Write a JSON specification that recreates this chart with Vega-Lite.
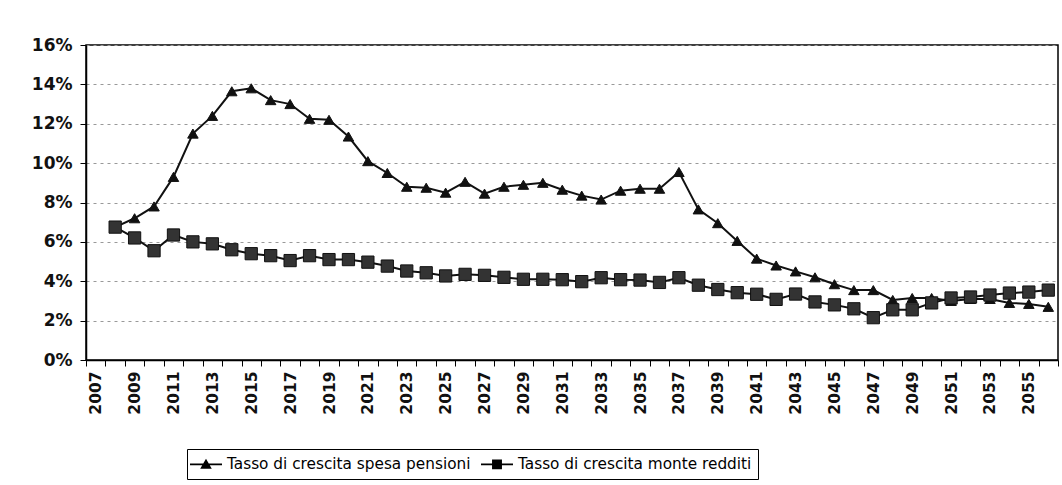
{
  "$schema": "https://vega.github.io/schema/vega-lite/v6.json",
  "width": 972,
  "height": 315,
  "autosize": {"type": "none"},
  "padding": {"left": 86, "top": 45, "right": 4, "bottom": 125},
  "background": "white",
  "config": {
    "font": "DejaVu Sans",
    "view": {"stroke": "black", "strokeWidth": 1.5}
  },
  "datasets": {
    "pensioni": [
      {"year": 2008, "value": 6.75}, {"year": 2009, "value": 7.2}, {"year": 2010, "value": 7.8},
      {"year": 2011, "value": 9.3}, {"year": 2012, "value": 11.5}, {"year": 2013, "value": 12.4},
      {"year": 2014, "value": 13.65}, {"year": 2015, "value": 13.8}, {"year": 2016, "value": 13.2},
      {"year": 2017, "value": 13.0}, {"year": 2018, "value": 12.25}, {"year": 2019, "value": 12.2},
      {"year": 2020, "value": 11.35}, {"year": 2021, "value": 10.1}, {"year": 2022, "value": 9.5},
      {"year": 2023, "value": 8.8}, {"year": 2024, "value": 8.75}, {"year": 2025, "value": 8.5},
      {"year": 2026, "value": 9.05}, {"year": 2027, "value": 8.45}, {"year": 2028, "value": 8.8},
      {"year": 2029, "value": 8.9}, {"year": 2030, "value": 9.0}, {"year": 2031, "value": 8.65},
      {"year": 2032, "value": 8.35}, {"year": 2033, "value": 8.15}, {"year": 2034, "value": 8.6},
      {"year": 2035, "value": 8.7}, {"year": 2036, "value": 8.7}, {"year": 2037, "value": 9.55},
      {"year": 2038, "value": 7.65}, {"year": 2039, "value": 6.95}, {"year": 2040, "value": 6.05},
      {"year": 2041, "value": 5.15}, {"year": 2042, "value": 4.8}, {"year": 2043, "value": 4.5},
      {"year": 2044, "value": 4.2}, {"year": 2045, "value": 3.85}, {"year": 2046, "value": 3.55},
      {"year": 2047, "value": 3.55}, {"year": 2048, "value": 3.05}, {"year": 2049, "value": 3.15},
      {"year": 2050, "value": 3.15}, {"year": 2051, "value": 3.0}, {"year": 2052, "value": 3.1},
      {"year": 2053, "value": 3.1}, {"year": 2054, "value": 2.9}, {"year": 2055, "value": 2.85},
      {"year": 2056, "value": 2.7}
    ],
    "redditi": [
      {"year": 2008, "value": 6.75}, {"year": 2009, "value": 6.2}, {"year": 2010, "value": 5.55},
      {"year": 2011, "value": 6.35}, {"year": 2012, "value": 6.0}, {"year": 2013, "value": 5.9},
      {"year": 2014, "value": 5.6}, {"year": 2015, "value": 5.4}, {"year": 2016, "value": 5.3},
      {"year": 2017, "value": 5.05}, {"year": 2018, "value": 5.3}, {"year": 2019, "value": 5.1},
      {"year": 2020, "value": 5.1}, {"year": 2021, "value": 4.97}, {"year": 2022, "value": 4.77},
      {"year": 2023, "value": 4.52}, {"year": 2024, "value": 4.43}, {"year": 2025, "value": 4.27},
      {"year": 2026, "value": 4.35}, {"year": 2027, "value": 4.3}, {"year": 2028, "value": 4.2},
      {"year": 2029, "value": 4.1}, {"year": 2030, "value": 4.1}, {"year": 2031, "value": 4.08},
      {"year": 2032, "value": 3.98}, {"year": 2033, "value": 4.18}, {"year": 2034, "value": 4.08},
      {"year": 2035, "value": 4.06}, {"year": 2036, "value": 3.94}, {"year": 2037, "value": 4.18},
      {"year": 2038, "value": 3.8}, {"year": 2039, "value": 3.58}, {"year": 2040, "value": 3.42},
      {"year": 2041, "value": 3.34}, {"year": 2042, "value": 3.08}, {"year": 2043, "value": 3.35},
      {"year": 2044, "value": 2.95}, {"year": 2045, "value": 2.8}, {"year": 2046, "value": 2.6},
      {"year": 2047, "value": 2.15}, {"year": 2048, "value": 2.55}, {"year": 2049, "value": 2.55},
      {"year": 2050, "value": 2.9}, {"year": 2051, "value": 3.15}, {"year": 2052, "value": 3.2},
      {"year": 2053, "value": 3.3}, {"year": 2054, "value": 3.4}, {"year": 2055, "value": 3.45},
      {"year": 2056, "value": 3.55}
    ]
  },
  "data": {"name": "pensioni"},
  "transform": [
    {"lookup": "year", "from": {"data": {"name": "redditi"}, "key": "year", "fields": ["value"]}, "as": ["value2"]},
    {"fold": ["value", "value2"], "as": ["key", "v"]},
    {"calculate": "datum.key == 'value' ? 'Tasso di crescita spesa pensioni' : 'Tasso di crescita monte redditi'", "as": "series"}
  ],
  "encoding": {
    "x": {
      "field": "year",
      "type": "ordinal",
      "scale": {
        "type": "band",
        "domain": [2007, 2008, 2009, 2010, 2011, 2012, 2013, 2014, 2015, 2016, 2017, 2018, 2019, 2020, 2021, 2022, 2023, 2024, 2025, 2026, 2027, 2028, 2029, 2030, 2031, 2032, 2033, 2034, 2035, 2036, 2037, 2038, 2039, 2040, 2041, 2042, 2043, 2044, 2045, 2046, 2047, 2048, 2049, 2050, 2051, 2052, 2053, 2054, 2055, 2056],
        "paddingInner": 0,
        "paddingOuter": 0
      },
      "axis": {
        "title": null,
        "labelAngle": -90,
        "labelExpr": "datum.value % 2 == 1 ? datum.label : ''",
        "labelOverlap": false,
        "tickBand": "extent",
        "tickSize": 6,
        "tickColor": "black",
        "domainColor": "black",
        "domainWidth": 1.5,
        "labelFontSize": 15.5,
        "labelFontWeight": "bold",
        "labelColor": "#111111",
        "labelPadding": 5,
        "grid": false
      }
    },
    "y": {
      "field": "v",
      "type": "quantitative",
      "scale": {"domain": [0, 16], "nice": false},
      "axis": {
        "title": null,
        "values": [0, 2, 4, 6, 8, 10, 12, 14, 16],
        "labelExpr": "datum.value + '%'",
        "grid": true,
        "gridDash": [3, 4],
        "gridColor": "#999999",
        "gridWidth": 1,
        "tickSize": 6,
        "tickColor": "black",
        "domainColor": "black",
        "domainWidth": 1.5,
        "labelFontSize": 17,
        "labelFontWeight": "bold",
        "labelColor": "#111111",
        "labelPadding": 8
      }
    }
  },
  "layer": [
    {
      "mark": {"type": "line", "color": "#111111", "strokeWidth": 2},
      "encoding": {"detail": {"field": "series", "type": "nominal"}}
    },
    {
      "mark": {"type": "point", "filled": true, "opacity": 1, "stroke": "#111111", "strokeWidth": 1},
      "encoding": {
        "shape": {
          "field": "series", "type": "nominal",
          "scale": {"domain": ["Tasso di crescita spesa pensioni", "Tasso di crescita monte redditi"], "range": ["triangle-up", "square"]},
          "legend": null
        },
        "size": {
          "field": "series", "type": "nominal",
          "scale": {"domain": ["Tasso di crescita spesa pensioni", "Tasso di crescita monte redditi"], "range": [110, 150]},
          "legend": null
        },
        "fill": {
          "field": "series", "type": "nominal",
          "scale": {"domain": ["Tasso di crescita spesa pensioni", "Tasso di crescita monte redditi"], "range": ["#111111", "#333333"]},
          "legend": null
        }
      }
    },
    {
      "mark": {"type": "point", "opacity": 0, "color": "black"},
      "encoding": {
        "shape": {
          "field": "series", "type": "nominal",
          "scale": {
            "domain": ["Tasso di crescita spesa pensioni", "Tasso di crescita monte redditi"],
            "range": [
              "M-2,0H2M-0.55,0.45L0,-0.5L0.55,0.45ZM-0.33,0.32L0,-0.25L0.33,0.32ZM-0.14,0.21L0,-0.03L0.14,0.21Z",
              "M-2,0H2M-0.52,-0.52H0.52V0.52H-0.52ZM-0.32,-0.32H0.32V0.32H-0.32ZM-0.12,-0.12H0.12V0.12H-0.12Z"
            ]
          },
          "legend": {
            "title": null,
            "orient": "none",
            "legendX": 101,
            "legendY": 404,
            "direction": "horizontal",
            "strokeColor": "black",
            "fillColor": "white",
            "padding": 6,
            "labelFontSize": 15.3,
            "labelColor": "black",
            "labelFont": "DejaVu Sans",
            "labelLimit": 0,
            "symbolSize": 256,
            "symbolOpacity": 1,
            "symbolStrokeColor": "black",
            "symbolStrokeWidth": 1.6,
            "symbolOffset": 4,
            "labelOffset": 12,
            "columnPadding": 6
          }
        }
      }
    }
  ],
  "resolve": {"scale": {"shape": "independent"}}
}
